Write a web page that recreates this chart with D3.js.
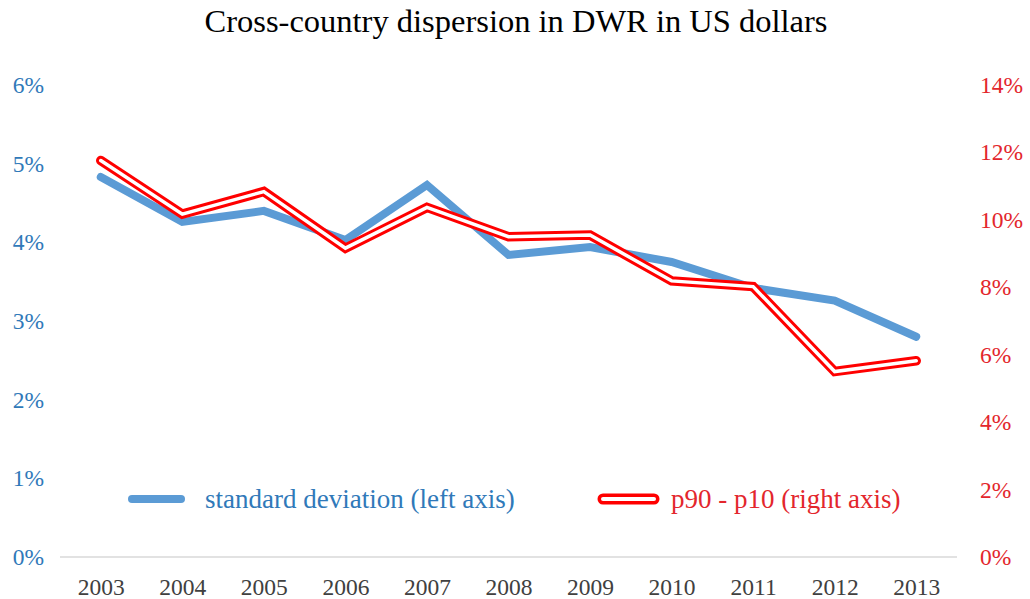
<!DOCTYPE html>
<html>
<head>
<meta charset="utf-8">
<script src="https://cdn.jsdelivr.net/npm/d3@7"></script>
<style>
  body { margin: 0; background: #fff; }
  text { font-family: "Liberation Serif", "Times New Roman", serif; }
</style>
</head>
<body>
<div id="chart"></div>
<script>
// data
var years = ["2003", "2004", "2005", "2006", "2007", "2008", "2009", "2010", "2011", "2012", "2013"];
var stdDev = [4.83, 4.26, 4.40, 4.03, 4.73, 3.84, 3.94, 3.75, 3.42, 3.26, 2.80];
var p90p10 = [11.76, 10.17, 10.84, 9.16, 10.37, 9.50, 9.55, 8.19, 8.02, 5.50, 5.82];
var leftTicks = [0, 1, 2, 3, 4, 5, 6];
var rightTicks = [0, 2, 4, 6, 8, 10, 12, 14];

var width = 1030, height = 599;
var margin = {top: 85, right: 73, bottom: 42, left: 60};

var svg = d3.select("#chart").append("svg")
  .attr("width", width)
  .attr("height", height);

var x = d3.scalePoint()
  .domain(years)
  .range([margin.left, width - margin.right])
  .padding(0.5);

var yL = d3.scaleLinear()
  .domain([0, 6])
  .range([height - margin.bottom, margin.top]);

var yR = d3.scaleLinear()
  .domain([0, 14])
  .range([height - margin.bottom, margin.top]);

// title
svg.append("text")
  .attr("x", 516)
  .attr("y", 32)
  .attr("text-anchor", "middle")
  .style("font-size", "32.5px")
  .style("fill", "#000")
  .text("Cross-country dispersion in DWR in US dollars");

// x axis
var xAxis = svg.append("g")
  .attr("transform", "translate(0," + yL(0) + ")")
  .call(d3.axisBottom(x).tickSize(0).tickPadding(21));
xAxis.select(".domain").attr("stroke", "#d9d9d9").attr("stroke-width", 1.3)
  .attr("d", "M" + margin.left + ",0H" + (width - margin.right));
xAxis.selectAll("text")
  .style("font-family", "Liberation Serif, serif")
  .style("font-size", "23.5px")
  .style("fill", "#404040");

// left axis
var leftAxis = svg.append("g")
  .attr("transform", "translate(44,0)")
  .call(d3.axisLeft(yL).tickValues(leftTicks).tickSize(0).tickPadding(0)
    .tickFormat(function(d) { return d + "%"; }));
leftAxis.select(".domain").remove();
leftAxis.selectAll("text")
  .style("font-family", "Liberation Serif, serif")
  .style("font-size", "23.5px")
  .style("fill", "#3079b9");

// right axis
var rightAxis = svg.append("g")
  .attr("transform", "translate(980,0)")
  .call(d3.axisRight(yR).tickValues(rightTicks).tickSize(0).tickPadding(0)
    .tickFormat(function(d) { return d + "%"; }));
rightAxis.select(".domain").remove();
rightAxis.selectAll("text")
  .style("font-family", "Liberation Serif, serif")
  .style("font-size", "23.5px")
  .style("fill", "#e3262c");

// lines
var lineL = d3.line()
  .x(function(d, i) { return x(years[i]); })
  .y(function(d) { return yL(d); });

var lineR = d3.line()
  .x(function(d, i) { return x(years[i]); })
  .y(function(d) { return yR(d); });

svg.append("path")
  .datum(stdDev)
  .attr("d", lineL)
  .attr("fill", "none")
  .attr("stroke", "#5b9bd5")
  .attr("stroke-width", 8)
  .attr("stroke-linecap", "round");

svg.append("path")
  .datum(p90p10)
  .attr("d", lineR)
  .attr("fill", "none")
  .attr("stroke", "#ff0000")
  .attr("stroke-width", 9.5)
  .attr("stroke-linecap", "round");

svg.append("path")
  .datum(p90p10)
  .attr("d", lineR)
  .attr("fill", "none")
  .attr("stroke", "#fff")
  .attr("stroke-width", 3.5)
  .attr("stroke-linecap", "round");

// legend
var legY = 499;
svg.append("line")
  .attr("x1", 132).attr("x2", 181)
  .attr("y1", legY).attr("y2", legY)
  .attr("stroke", "#5b9bd5")
  .attr("stroke-width", 8)
  .attr("stroke-linecap", "round");
svg.append("text")
  .attr("x", 205).attr("y", legY + 9)
  .style("font-size", "27px")
  .style("fill", "#3079b9")
  .text("standard deviation (left axis)");

svg.append("line")
  .attr("x1", 603).attr("x2", 654)
  .attr("y1", legY).attr("y2", legY)
  .attr("stroke", "#ff0000")
  .attr("stroke-width", 11)
  .attr("stroke-linecap", "round");
svg.append("line")
  .attr("x1", 603).attr("x2", 654)
  .attr("y1", legY).attr("y2", legY)
  .attr("stroke", "#fff")
  .attr("stroke-width", 4)
  .attr("stroke-linecap", "round");
svg.append("text")
  .attr("x", 671).attr("y", legY + 9)
  .style("font-size", "27px")
  .style("fill", "#e3262c")
  .text("p90 - p10 (right axis)");
</script>
</body>
</html>
